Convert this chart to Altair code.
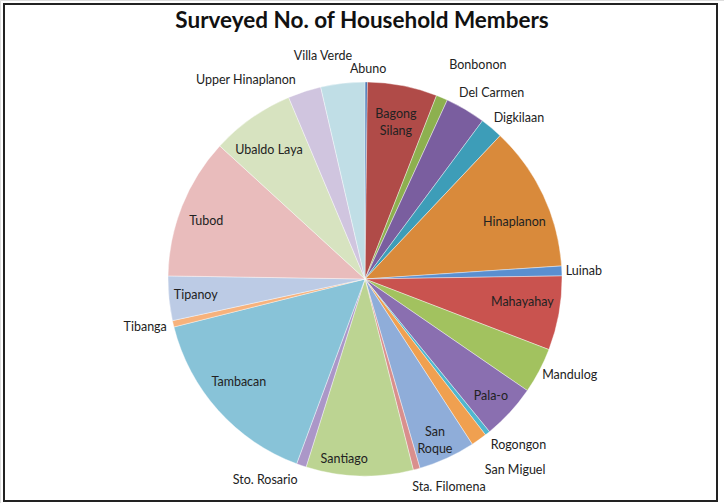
import math
import altair as alt
import pandas as pd

# ---- data -------------------------------------------------------------
barangays = [
    "Abuno", "Bagong Silang", "Bonbonon", "Del Carmen", "Digkilaan",
    "Hinaplanon", "Luinab", "Mahayahay", "Mandulog", "Pala-o", "Rogongon",
    "San Miguel", "San Roque", "Sta. Filomena", "Santiago", "Sto. Rosario",
    "Tambacan", "Tibanga", "Tipanoy", "Tubod", "Ubaldo Laya",
    "Upper Hinaplanon", "Villa Verde",
]
members = [
    7, 206, 34, 119, 67,
    429, 29, 219, 135, 163, 15,
    47, 168, 20, 316, 29,
    556, 19, 131, 416, 247,
    98, 130,
]
display_labels = {"Bagong Silang": "Bagong\nSilang", "San Roque": "San\nRoque"}

# ---- styling ----------------------------------------------------------
colors = [
    "#3e6fb0", "#b04b48", "#8db04f", "#7a5e9f", "#3d9db8",
    "#d98a3b", "#5a8fd0", "#c9534f", "#a2c25f", "#8a6fb0", "#4fb7cf",
    "#f0a050", "#8fadd9", "#d98f8d", "#bcd492", "#ab97c8",
    "#88c3d8", "#f7b27c", "#bccbe5", "#e9bcbc", "#d7e3c0",
    "#d0c5df", "#c0dee6",
]
# label layout: (angle shift in degrees, radius in px)
label_layout = {
    "Abuno": (0.5, 210), "Villa Verde": (-4.2, 227), "Bonbonon": (4.8, 242),
    "Upper Hinaplanon": (-13.0, 232), "Del Carmen": (3.6, 225),
    "Digkilaan": (3.7, 223), "Luinab": (0.3, 219), "Mandulog": (-2.7, 226),
    "Rogongon": (-4.3, 226), "San Miguel": (-2.8, 243),
    "Sta. Filomena": (-6.8, 224), "Sto. Rosario": (7.6, 224),
    "Tibanga": (0.8, 225),
    # labels inside the pie
    "Santiago": (5.0, 181), "Hinaplanon": (4.3, 160), "Mahayahay": (-1.7, 159),
    "Tambacan": (2.6, 163), "Tubod": (-1.7, 169), "Pala-o": (0.3, 172),
    "San Roque": (0.0, 168), "Bagong Silang": (-0.4, 168),
    "Ubaldo Laya": (-1.5, 161), "Tipanoy": (0.25, 170),
}
CX, CY, R = 365, 279, 197

df = pd.DataFrame({"name": barangays, "value": members})
total = float(df["value"].sum())
df["end"] = df["value"].cumsum()
df["start"] = df["end"] - df["value"]
df["mid"] = (df["start"] + df["end"]) / 2
df["label"] = [display_labels.get(n, n) for n in barangays]
shift = [label_layout[n][0] for n in barangays]
df["lab_theta"] = df["mid"] + pd.Series(shift) * total / 360.0
df["lab_r"] = [label_layout[n][1] for n in barangays]

theta_scale = alt.Scale(domain=[0, total], range=[0, 2 * math.pi])

arcs = alt.Chart(df).mark_arc(outerRadius=R, stroke="white", strokeWidth=0.4).encode(
    theta=alt.Theta("start:Q", scale=theta_scale, stack=False),
    theta2="end:Q",
    color=alt.Color("name:N", scale=alt.Scale(domain=barangays, range=colors), legend=None),
    x=alt.value(CX), y=alt.value(CY),
)

labels = alt.Chart(df).mark_text(
    font="Lato", fontSize=12.5, color="#222222", lineBreak="\n", lineHeight=17
).encode(
    theta=alt.Theta("lab_theta:Q", scale=theta_scale, stack=False),
    radius=alt.Radius("lab_r:Q", scale=None),
    text="label:N",
    x=alt.value(CX), y=alt.value(CY),
)

title_df = pd.DataFrame({"t": ["Surveyed No. of Household Members"]})
title = alt.Chart(title_df).mark_text(
    font="Lato", fontSize=22.5, fontWeight="bold", color="#111111", baseline="alphabetic"
).encode(text="t:N", x=alt.value(362), y=alt.value(28))

frame = alt.Chart(title_df).mark_rect(filled=False, stroke="#222222", strokeWidth=2).encode(
    x=alt.value(4), x2=alt.value(717), y=alt.value(4), y2=alt.value(501)
)

chart = alt.layer(arcs, labels, title, frame).properties(
    width=724, height=503, padding=0, autosize=alt.AutoSizeParams(type="none")
).configure_view(stroke=None).configure(background="white")

chart.save("out.html", embed_options={"renderer": "svg", "actions": False})
